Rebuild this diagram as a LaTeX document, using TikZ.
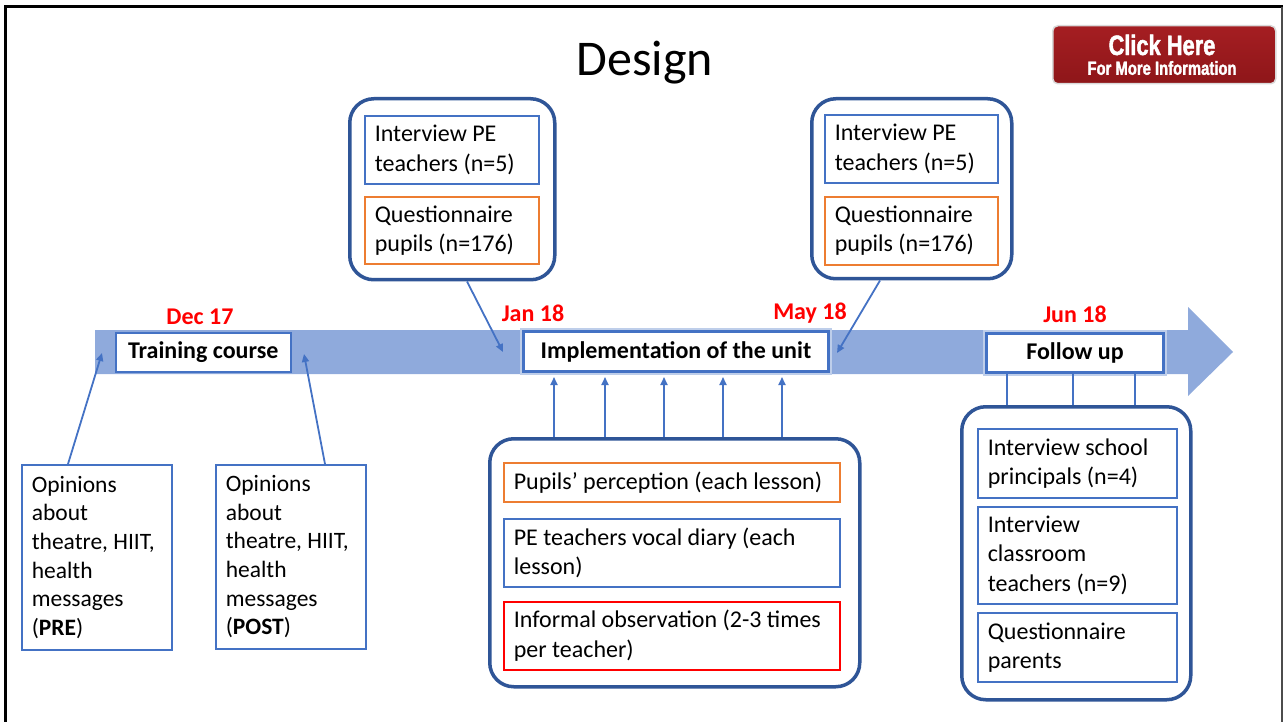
\documentclass[tikz,border=0pt]{standalone}
\usepackage{fontspec}
\setmainfont{Carlito}
\newfontfamily\btnfont[FakeStretch=0.78,FakeBold=1.6,UprightFont={* Bold}]{Liberation Sans}
\usetikzlibrary{arrows.meta,calc}
\definecolor{boxblue}{HTML}{4472C4}
\definecolor{grpblue}{HTML}{2F5597}
\definecolor{bandblue}{HTML}{8FAADC}
\definecolor{orng}{HTML}{ED7D31}
\definecolor{pured}{HTML}{FF0000}
\definecolor{btntop}{HTML}{A51E22}
\definecolor{btnmid}{HTML}{D2474A}
\definecolor{btnbot}{HTML}{8E1619}
\begin{document}
\begin{tikzpicture}[x=1pt,y=-1pt,
  every node/.style={inner sep=0},
  ibox/.style={draw=boxblue, line width=1.6, fill=white, anchor=north west, align=flush left,
    inner xsep=10, inner ysep=0, font=\fontsize{24}{29.3}\selectfont},
  obox/.style={ibox, font=\fontsize{23.5}{28.6}\selectfont},
  group/.style={draw=grpblue, line width=3.5, rounded corners=24, fill=white, anchor=north west},
  date/.style={text=pured, font=\bfseries\fontsize{24}{28}\selectfont},
  stage/.style={draw=boxblue, fill=white, anchor=north west, font=\bfseries\fontsize{24}{28}\selectfont},
  glow/.style={line width=3, preaction={draw=boxblue!35, line width=7}},
  conn/.style={draw=boxblue, line width=1.8, -{Triangle[length=8,width=7]}},
  tie/.style={draw=boxblue, line width=2}]
\useasboundingbox (0,0) rectangle (1283,722);
% frame
\draw[line width=3] (5,722) -- (5,7) -- (1283,7);
\draw[line width=1.2, black!70] (1282,7) -- (1282,722);
% title
\node[font=\fontsize{50}{54}\selectfont] (title) at (645,63) {Design};
% button
\node[anchor=north west, minimum width=223, minimum height=58, rounded corners=5,
  draw=black!15, line width=1.5, top color=btntop, middle color=btnmid, bottom color=btnbot] (btn) at (1052,25) {};
\node[text=white, font=\btnfont\fontsize{28}{30}\selectfont] (btnA) at (1162,45) {Click Here};
\node[text=white, font=\btnfont\fontsize{19}{21}\selectfont] (btnB) at (1162,68) {For More Information};
% timeline band
\fill[bandblue] (95,330) -- (1188,330) -- (1188,307) -- (1233,352) -- (1188,396) -- (1188,374) -- (95,374) -- cycle;
% stages
\node[stage, line width=1.5, minimum width=175, minimum height=39] (tc) at (115,332) {Training course};
\node[stage, glow, minimum width=305, minimum height=40] (impl) at (522,330) {Implementation of the unit};
\node[stage, glow, minimum width=177, minimum height=39] (fu) at (985,332) {Follow up};
% dates
\node[date] (dDec) at (200,317) {Dec 17};
\node[date] (dJan) at (533,313) {Jan 18};
\node[date] (dMay) at (810,313) {May 18};
\node[date] (dJun) at (1075,314) {Jun 18};
% top left group
\node[group, minimum width=205, minimum height=181] (g1) at (348,97) {};
\node[ibox, minimum width=174, minimum height=68, text width=154] (a1) at (364,115) {Interview PE\\teachers (n=5)};
\node[ibox, draw=orng, minimum width=174, minimum height=67, text width=154] (a2) at (364,196) {Questionnaire\\pupils (n=176)};
% top right group
\node[group, minimum width=200, minimum height=180] (g4) at (810,97) {};
\node[ibox, minimum width=173, minimum height=68, text width=153] (b1) at (824,114) {Interview PE\\teachers (n=5)};
\node[ibox, draw=orng, minimum width=173, minimum height=68, text width=153] (b2) at (824,196) {Questionnaire\\pupils (n=176)};
% opinions
\node[obox, minimum width=150, minimum height=185, text width=130] (o1) at (21,464) {Opinions\\about\\theatre, HIIT,\\health\\messages\\(\textbf{PRE})};
\node[obox, minimum width=150, minimum height=184, text width=130] (o2) at (215,464) {Opinions\\about\\theatre, HIIT,\\health\\messages\\(\textbf{POST})};
% bottom middle group
\node[group, minimum width=370, minimum height=248] (g2) at (488,437) {};
\node[ibox, draw=orng, minimum width=336, minimum height=39, text width=316] (c1) at (503,462) {\mbox{Pupils’ perception (each lesson)}};
\node[ibox, minimum width=336, minimum height=68, text width=316] (c2) at (503,518) {PE teachers vocal diary (each\\lesson)};
\node[ibox, draw=pured, minimum width=336, minimum height=68, text width=316] (c3) at (503,601) {Informal observation (2-3 times\\per teacher)};
% bottom right group
\node[group, minimum width=229, minimum height=293] (g3) at (960,405) {};
\node[ibox, minimum width=199, minimum height=69, text width=179] (d1) at (977,428) {Interview school\\principals (n=4)};
\node[ibox, minimum width=199, minimum height=97, text width=179] (d2) at (977,506) {Interview\\classroom\\teachers (n=9)};
\node[ibox, minimum width=199, minimum height=69, text width=179] (d3) at (977,612) {Questionnaire\\parents};
% connectors
\coordinate (tp1) at (102,353);
\coordinate (tp2) at (304,354);
\coordinate (tp3) at (503,352);
\coordinate (tp4) at (837,353);
\draw[conn] ($(o1.north west)+(47,0)$) -- (tp1);
\draw[conn] ($(o2.north west)+(110,0)$) -- (tp2);
\draw[conn] ($(g1.south west)+(119,0)$) -- (tp3);
\draw[conn] ($(g4.south west)+(70,0)$) -- (tp4);
\foreach \dx in {66,117,176,235,294}
  \draw[conn] ($(g2.north west)+(\dx,0)$) -- ++(0,-60);
\foreach \dx in {22,88,150}
  \draw[tie] ($(fu.south west)+(\dx,0)$) -- ($(g3.north west)+(\dx+25,0)$);
\end{tikzpicture}
\end{document}
